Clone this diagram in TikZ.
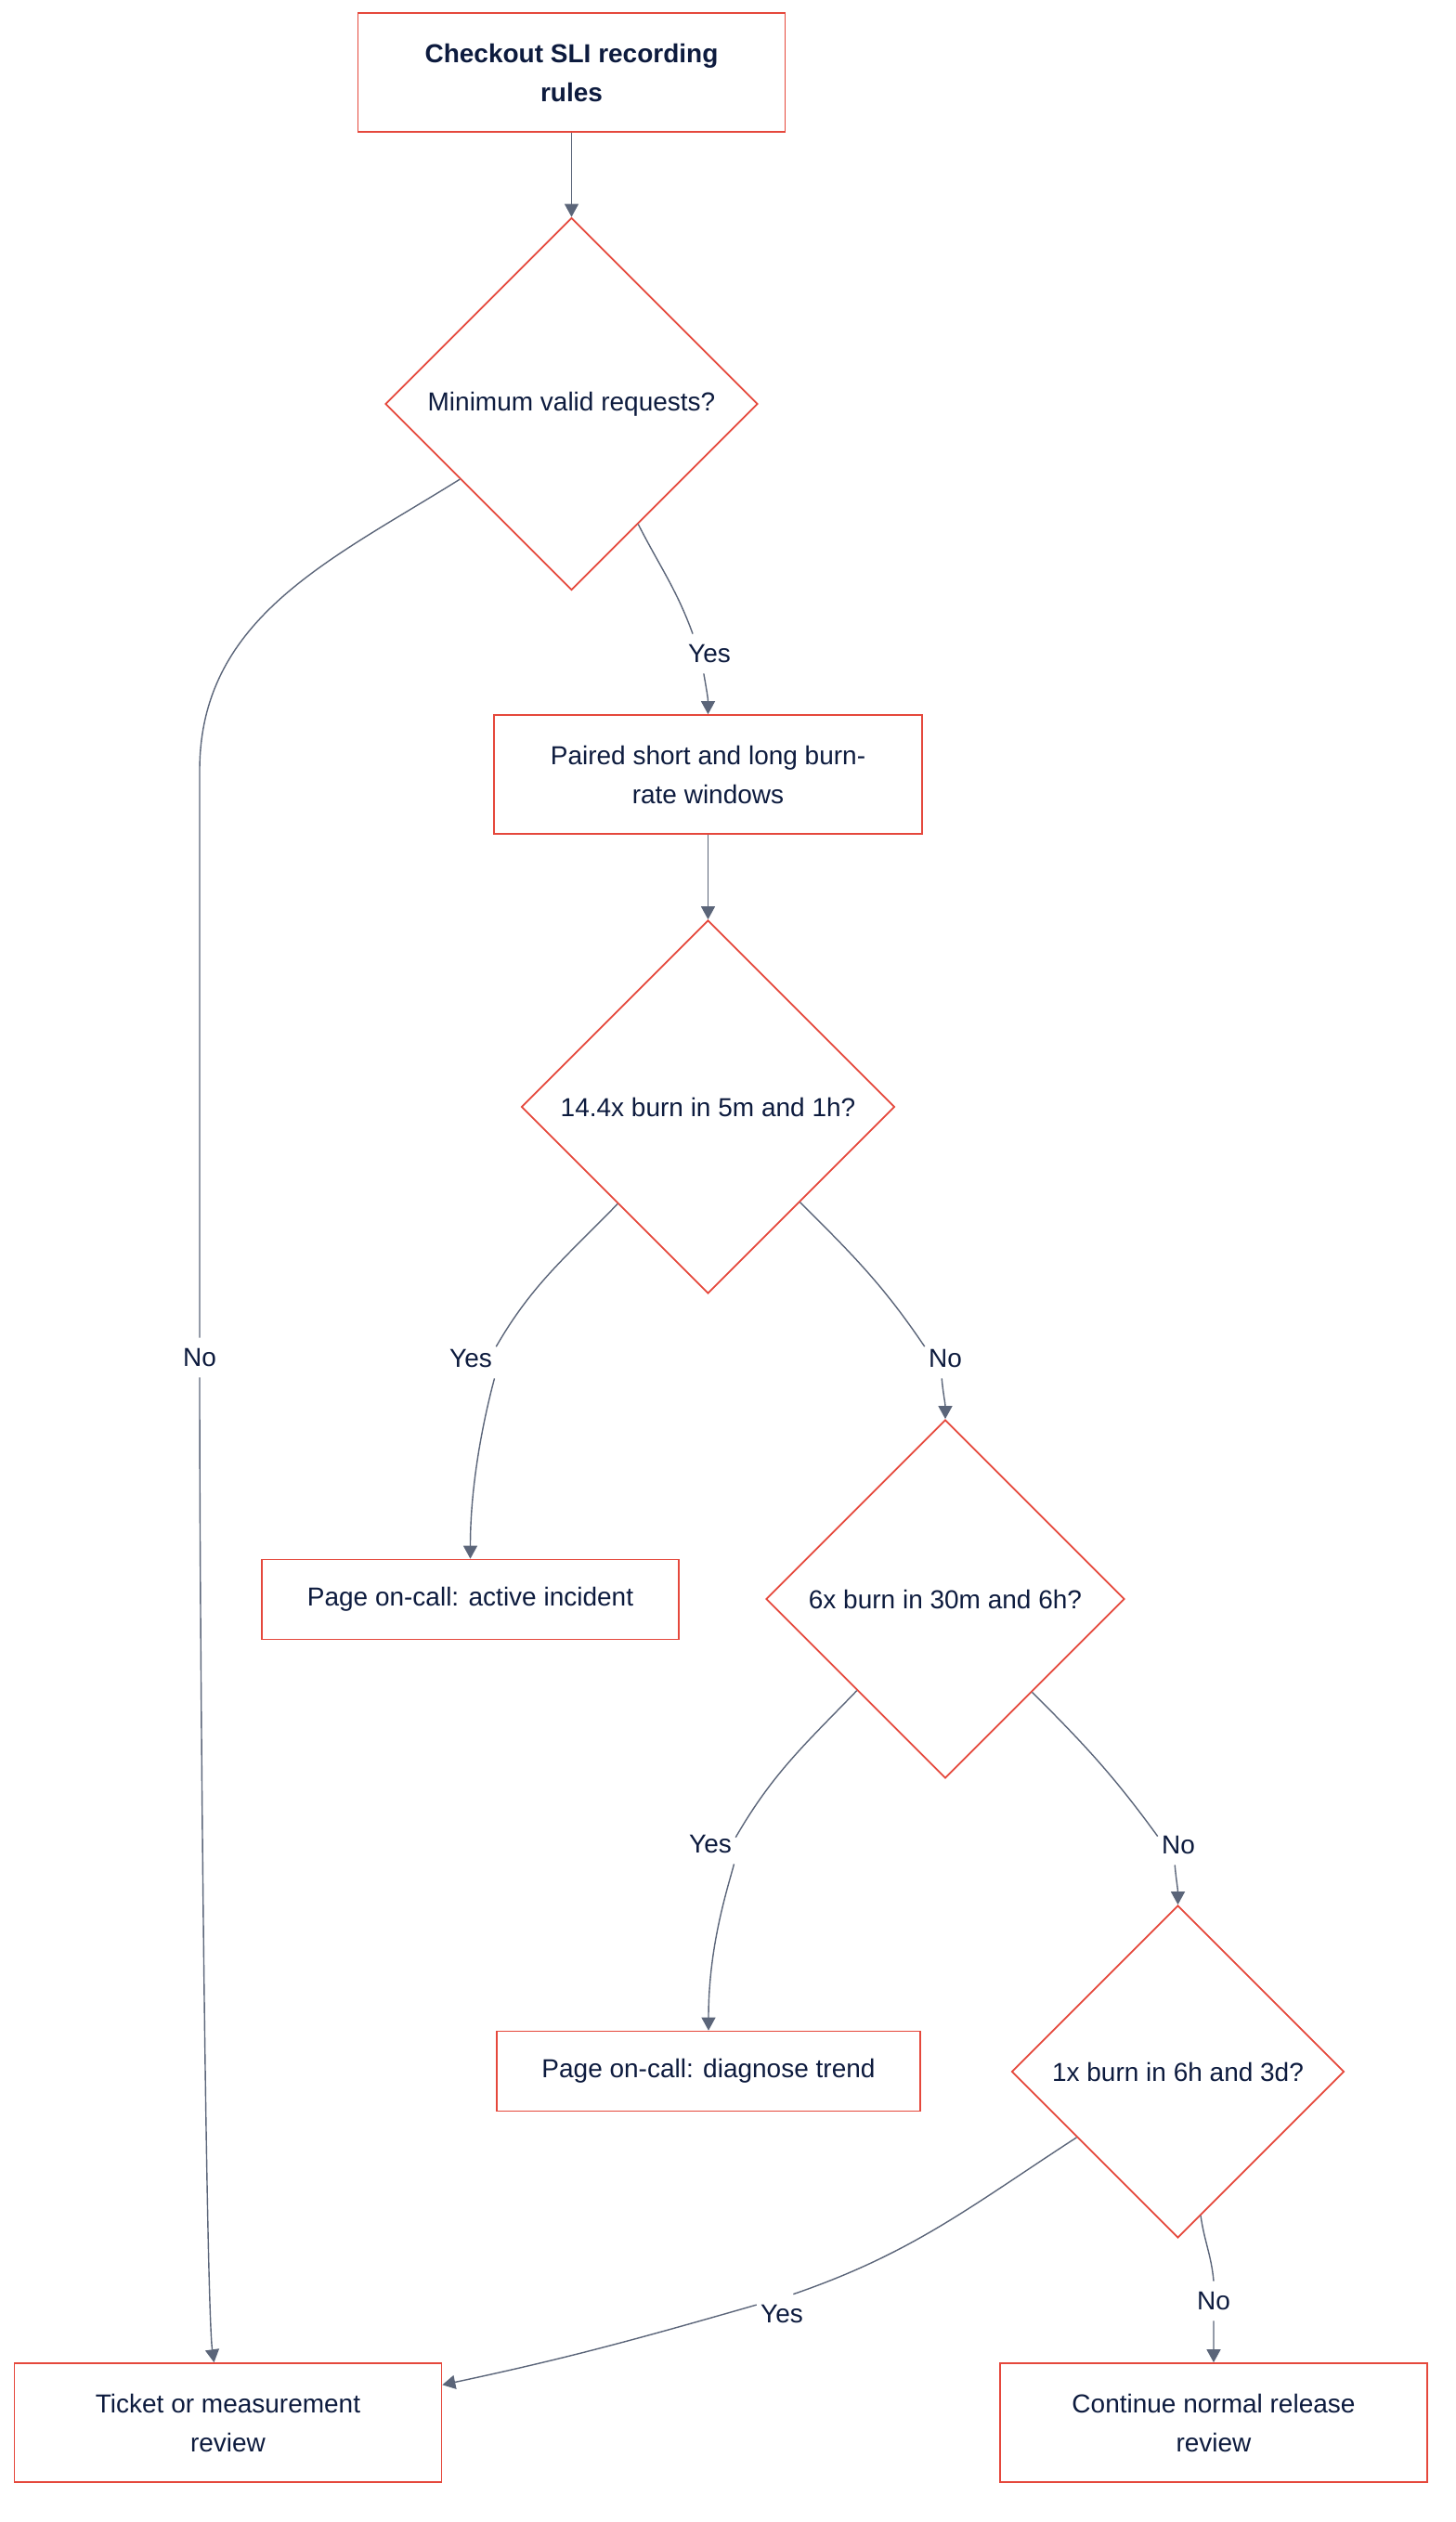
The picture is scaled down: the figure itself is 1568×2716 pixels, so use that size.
\documentclass[tikz,border=0pt]{standalone}
\usepackage{fontspec}
\setmainfont{Liberation Sans}
\usetikzlibrary{shapes.geometric,arrows.meta}
\definecolor{flowred}{HTML}{E5483C}
\definecolor{edgegray}{HTML}{5B6579}
\definecolor{ink}{HTML}{0D1B3E}

\begin{document}
\begin{tikzpicture}[x=0.5pt, y=0.5pt,
  every node/.style={text=ink, font=\fontsize{14}{21}\selectfont},
  procbox/.style={draw=flowred, line width=0.85pt, align=center, inner sep=0pt, minimum height=64pt, minimum width=230pt},
  decision/.style={diamond, draw=flowred, line width=0.85pt, inner sep=0pt, aspect=1},
  edgelbl/.style={fill=white, inner xsep=2pt, inner ysep=0pt, minimum height=21pt},
  flow/.style={draw=edgegray, line width=0.7pt, -{Triangle[length=7pt, width=7.5pt]}}]
\useasboundingbox (0,0) rectangle (1568,-2716);

\node[procbox, font=\bfseries\fontsize{14}{21}\selectfont] (title) at (615.5,-78) {Checkout SLI recording\\rules};
\node[decision, minimum size=200.5pt] (minreq) at (615.5,-435) {Minimum valid requests?};
\node[procbox, minimum width=230.5pt] (par) at (762.5,-834) {Paired short and long burn-\\rate windows};
\node[decision, minimum size=201pt] (burn14) at (762.5,-1192) {14.4x burn in 5m and 1h?};
\node[procbox, minimum width=224.5pt, minimum height=43pt] (active) at (506.5,-1722.5) {Page on-call: active incident};
\node[decision, minimum size=193pt] (burn6) at (1018,-1722) {6x burn in 30m and 6h?};
\node[procbox, minimum width=228pt, minimum height=43pt] (diagnose) at (763,-2230.5) {Page on-call: diagnose trend};
\node[decision, minimum size=179pt] (burn1) at (1268.5,-2231) {1x burn in 6h and 3d?};
\node[procbox] (ticket) at (245.5,-2609) {Ticket or measurement\\review};
\node[procbox] (cont) at (1307,-2609) {Continue normal release\\review};

\node[edgelbl] (lblNoA) at (215,-1462) {No};
\node[edgelbl] (lblYesA) at (764,-704) {Yes};
\node[edgelbl] (lblYesB) at (507,-1463) {Yes};
\node[edgelbl] (lblNoB) at (1018,-1463) {No};
\node[edgelbl] (lblYesC) at (765,-1986) {Yes};
\node[edgelbl] (lblNoC) at (1269,-1987) {No};
\node[edgelbl] (lblYesE) at (842,-2492) {Yes};
\node[edgelbl] (lblNoD) at (1307,-2478) {No};
\coordinate (bendNo) at (215,-830);

\draw[flow] (title) -- (minreq);
\draw[flow] (minreq.214) to[out=212, in=90] (bendNo) -- (lblNoA.north) (lblNoA.south) to[out=-90, in=98, out distance=150pt, in distance=30pt] ([xshift=-7.5pt]ticket.north);
\draw[flow] (minreq.299) to[out=297, in=110] (lblYesA.130) (lblYesA.254) to[out=-80, in=90] (par);
\draw[flow] (par) -- (burn14);
\draw[flow] (burn14.227) to[out=226, in=60] (lblYesB.25) (lblYesB.-40) to[out=-105, in=90, out distance=15pt, in distance=45pt] (active);
\draw[flow] (burn14.314) to[out=315, in=124] (lblNoB.150) (lblNoB.260) to[out=-85, in=90] (burn6);
\draw[flow] (burn6.226) to[out=226, in=60] (lblYesC.15) (lblYesC.-40) to[out=-105, in=90, out distance=15pt, in distance=45pt] (diagnose);
\draw[flow] (burn6.313) to[out=315, in=126] (lblNoC.157) (lblNoC.260) to[out=-85, in=90] (burn1);
\draw[flow] (burn1.213) to[out=213, in=19] (lblYesE.60) (lblYesE.160) to[out=196, in=12] (ticket.10);
\draw[flow] (burn1.279) to[out=278, in=95] (lblNoD.north) (lblNoD.south) to[out=-90, in=90] (cont);
\end{tikzpicture}
\end{document}
